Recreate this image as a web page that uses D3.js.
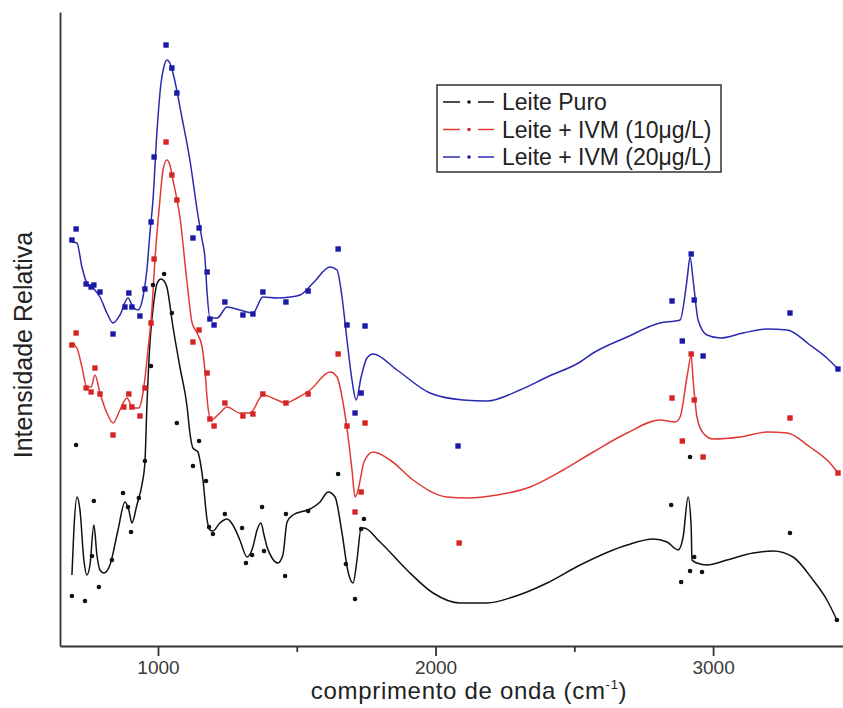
<!DOCTYPE html>
<html>
<head>
<meta charset="utf-8">
<script src="https://cdn.jsdelivr.net/npm/d3@7"></script>
<style>
  body { margin: 0; background: #fff; }
  svg text { font-family: "Liberation Sans", Arial, sans-serif; }
</style>
</head>
<body>
<script>
// wavenumber (cm-1) and relative intensity (a.u.)
const seriesNames = ["Leite Puro", "Leite + IVM (10μg/L)", "Leite + IVM (20μg/L)"];
const seriesColors = ["#111111", "#e03a36", "#2a2ab0"];
const markerColors = ["#111111", "#d42424", "#1a1aa6"];
const xTicks = [1000, 2000, 3000];
const xMinorTicks = [1500, 2500];

// measured points
const puroPoints = [
  [690, 50], [705, 201], [737, 45], [762, 90], [769, 145], [787, 59], [834, 86],
  [874, 153], [892, 139], [903, 114], [931, 148], [953, 185], [975, 280], [982, 361],
  [1022, 372], [1050, 333], [1068, 223], [1126, 180], [1148, 205], [1173, 165],
  [1184, 119], [1198, 112], [1241, 132], [1303, 118], [1317, 83], [1339, 91],
  [1375, 139], [1382, 95], [1458, 70], [1461, 132], [1541, 135], [1649, 172],
  [1677, 82], [1710, 47], [1732, 117], [1742, 127], [2849, 141], [2885, 64],
  [2917, 75], [2917, 189], [2932, 89], [2960, 74], [3277, 113], [3446, 26]
];
const ivm10Points = [
  [690, 301], [705, 313], [741, 258], [759, 254], [773, 278], [791, 252], [838, 211],
  [877, 239], [895, 252], [906, 239], [935, 230], [953, 258], [975, 323], [986, 387],
  [1029, 504], [1050, 471], [1068, 446], [1126, 304], [1148, 316], [1177, 273],
  [1187, 227], [1202, 220], [1241, 243], [1306, 230], [1342, 232], [1378, 252],
  [1461, 243], [1541, 252], [1649, 292], [1681, 220], [1746, 223], [1732, 154],
  [1710, 134], [2085, 103], [2852, 248], [2921, 292], [2932, 246], [2889, 205],
  [2964, 189], [3277, 228], [3450, 173]
];
const ivm20Points = [
  [690, 406], [705, 417], [741, 362], [759, 359], [769, 361], [791, 354], [838, 312],
  [881, 339], [895, 353], [906, 339], [935, 330], [953, 357], [975, 424], [986, 489],
  [1029, 601], [1050, 578], [1068, 553], [1126, 408], [1148, 418], [1177, 374],
  [1187, 327], [1202, 321], [1241, 344], [1306, 331], [1342, 332], [1378, 354],
  [1461, 344], [1541, 355], [1649, 397], [1681, 321], [1746, 320], [1732, 253],
  [1710, 233], [2081, 200], [2852, 345], [2921, 392], [2932, 346], [2889, 305],
  [2964, 290], [3277, 333], [3450, 277]
];

// fitted curves
const puroFit = [
  [690, 71], [697, 116], [708, 149], [719, 136], [733, 86], [744, 71], [755, 81],
  [769, 121], [780, 91], [791, 76], [805, 73], [827, 81], [856, 116], [881, 144],
  [895, 136], [906, 123], [924, 141], [942, 161], [953, 184], [960, 239], [971, 303],
  [986, 346], [996, 362], [1011, 367], [1022, 365], [1032, 359], [1054, 319],
  [1079, 279], [1105, 239], [1115, 213], [1126, 198], [1144, 194], [1151, 186],
  [1162, 166], [1177, 126], [1187, 116], [1198, 115], [1223, 123], [1249, 127],
  [1270, 121], [1295, 106], [1321, 89], [1342, 99], [1357, 116], [1371, 123],
  [1382, 111], [1393, 99], [1411, 88], [1432, 83], [1450, 91], [1465, 124],
  [1486, 131], [1548, 137], [1584, 144], [1613, 154], [1638, 149], [1663, 113],
  [1685, 74], [1703, 63], [1717, 86], [1732, 118], [1742, 118], [1800, 104],
  [1897, 76], [1991, 53], [2088, 43], [2186, 43], [2279, 49], [2402, 63], [2521, 81],
  [2690, 101], [2784, 107], [2834, 104], [2874, 96], [2892, 109], [2910, 149],
  [2921, 119], [2924, 86], [2942, 83], [2978, 81], [3050, 86], [3144, 93],
  [3216, 95], [3288, 89], [3360, 66], [3410, 46], [3446, 26]
];
const ivm10Fit = [
  [690, 303], [708, 298], [726, 279], [744, 259], [759, 259], [773, 271], [791, 253],
  [816, 233], [838, 223], [863, 236], [888, 248], [910, 238], [931, 238], [946, 253],
  [964, 296], [978, 336], [989, 386], [1007, 446], [1018, 476], [1032, 486],
  [1043, 481], [1054, 466], [1079, 429], [1105, 363], [1123, 323], [1141, 313],
  [1159, 299], [1169, 276], [1180, 239], [1191, 226], [1223, 233], [1249, 239],
  [1295, 233], [1332, 233], [1378, 251], [1429, 246], [1461, 243], [1501, 248],
  [1548, 256], [1620, 274], [1645, 269], [1667, 243], [1685, 209], [1699, 176],
  [1710, 149], [1721, 156], [1732, 171], [1742, 184], [1775, 194], [1836, 186],
  [1919, 166], [2041, 149], [2114, 148], [2222, 151], [2341, 159], [2460, 176],
  [2568, 194], [2690, 213], [2809, 226], [2863, 224], [2881, 229], [2906, 269],
  [2921, 290], [2928, 266], [2942, 229], [2964, 213], [3000, 207], [3097, 209],
  [3195, 214], [3267, 213], [3349, 199], [3421, 183], [3450, 173]
];
const ivm20Fit = [
  [690, 404], [708, 403], [726, 379], [744, 363], [766, 358], [791, 349], [816, 333],
  [838, 323], [863, 331], [892, 348], [910, 339], [928, 336], [946, 349], [960, 376],
  [971, 413], [982, 446], [996, 513], [1011, 563], [1022, 580], [1032, 586],
  [1043, 583], [1054, 573], [1086, 529], [1115, 486], [1141, 436], [1159, 406],
  [1169, 389], [1177, 353], [1187, 328], [1213, 328], [1249, 339], [1295, 336],
  [1342, 333], [1378, 349], [1429, 348], [1476, 349], [1512, 351], [1559, 363],
  [1620, 379], [1645, 376], [1663, 349], [1681, 306], [1699, 266], [1714, 246],
  [1732, 269], [1753, 288], [1775, 292], [1861, 276], [1980, 253], [2099, 246],
  [2186, 245], [2304, 256], [2402, 269], [2521, 284], [2568, 293], [2690, 309],
  [2809, 323], [2863, 325], [2881, 326], [2906, 366], [2917, 389], [2928, 366],
  [2946, 326], [2978, 311], [3025, 308], [3108, 313], [3195, 317], [3267, 316],
  [3349, 301], [3410, 288], [3450, 277]
];

const series = [
  { name: seriesNames[0], points: puroPoints, fit: puroFit, marker: "dot" },
  { name: seriesNames[1], points: ivm10Points, fit: ivm10Fit, marker: "square" },
  { name: seriesNames[2], points: ivm20Points, fit: ivm20Fit, marker: "square" }
];

const width = 843,
  height = 708,
  margin = { top: 12, right: 0, bottom: 62, left: 60 };

const x = d3.scaleLinear().domain([647, 3468]).range([margin.left, width - margin.right]);
const y = d3.scaleLinear().domain([0, 634]).range([height - margin.bottom, margin.top]);

const svg = d3.select("body")
  .append("svg")
  .attr("width", width)
  .attr("height", height);

const line = d3.line()
  .x(d => x(d[0]))
  .y(d => y(d[1]))
  .curve(d3.curveMonotoneX);

// curves
svg.append("g")
  .selectAll("path")
  .data(series)
  .join("path")
  .attr("d", d => line(d.fit))
  .attr("fill", "none")
  .attr("stroke", (d, i) => seriesColors[i])
  .attr("stroke-width", 1.5);

// markers
series.forEach((s, i) => {
  const g = svg.append("g").attr("fill", markerColors[i]);
  if (s.marker === "dot") {
    g.selectAll("circle")
      .data(s.points)
      .join("circle")
      .attr("cx", d => x(d[0]))
      .attr("cy", d => y(d[1]))
      .attr("r", 2.3);
  } else {
    g.selectAll("rect")
      .data(s.points)
      .join("rect")
      .attr("x", d => x(d[0]) - 2.7)
      .attr("y", d => y(d[1]) - 2.7)
      .attr("width", 5.4)
      .attr("height", 5.4);
  }
});

// axes
const xAxis = svg.append("g")
  .attr("transform", `translate(0,${height - margin.bottom})`)
  .call(d3.axisBottom(x).tickValues(xTicks).tickFormat(d3.format("d"))
    .tickSize(10).tickSizeOuter(0).tickPadding(5));

svg.append("g")
  .attr("transform", `translate(0,${height - margin.bottom})`)
  .call(d3.axisBottom(x).tickValues(xMinorTicks).tickSize(6).tickSizeOuter(0).tickFormat(""))
  .call(g => g.select(".domain").remove());

const yAxis = svg.append("g")
  .attr("transform", `translate(${margin.left},0)`)
  .call(d3.axisLeft(y).ticks(0).tickSizeOuter(0));

svg.selectAll(".domain, .tick line")
  .attr("stroke", "#333")
  .attr("stroke-width", 1.8);

xAxis.selectAll(".tick text")
  .attr("font-size", 19)
  .attr("fill", "#3a3a3a");

// axis titles
const xTitle = svg.append("text")
  .attr("x", 469)
  .attr("y", 699)
  .attr("text-anchor", "middle")
  .attr("font-size", 24)
  .attr("letter-spacing", 0.7)
  .attr("fill", "#222")
  .text("comprimento de onda (cm");
xTitle.append("tspan")
  .attr("dy", -10)
  .attr("font-size", 13)
  .text("-1");
xTitle.append("tspan")
  .attr("dy", 10)
  .text(")");

svg.append("text")
  .attr("transform", "translate(32,345) rotate(-90)")
  .attr("text-anchor", "middle")
  .attr("font-size", 25)
  .attr("fill", "#222")
  .text("Intensidade Relativa");

// legend
const legend = svg.append("g").attr("transform", "translate(437,85)");
legend.append("rect")
  .attr("width", 284)
  .attr("height", 87)
  .attr("fill", "#fff")
  .attr("stroke", "#333")
  .attr("stroke-width", 1.5);

const item = legend.selectAll(".item")
  .data(series)
  .join("g")
  .attr("class", "item")
  .attr("transform", (d, i) => `translate(0,${17 + i * 27.5})`);

item.append("line")
  .attr("x1", 6).attr("x2", 23)
  .attr("stroke", (d, i) => seriesColors[i])
  .attr("stroke-width", 1.5);
item.append("line")
  .attr("x1", 41).attr("x2", 57)
  .attr("stroke", (d, i) => seriesColors[i])
  .attr("stroke-width", 1.5);
item.append("circle")
  .attr("cx", 32)
  .attr("r", 1.8)
  .attr("fill", (d, i) => markerColors[i]);
item.append("text")
  .attr("x", 65)
  .attr("y", 8)
  .attr("font-size", 23)
  .attr("fill", "#222")
  .text(d => d.name);
</script>
</body>
</html>
